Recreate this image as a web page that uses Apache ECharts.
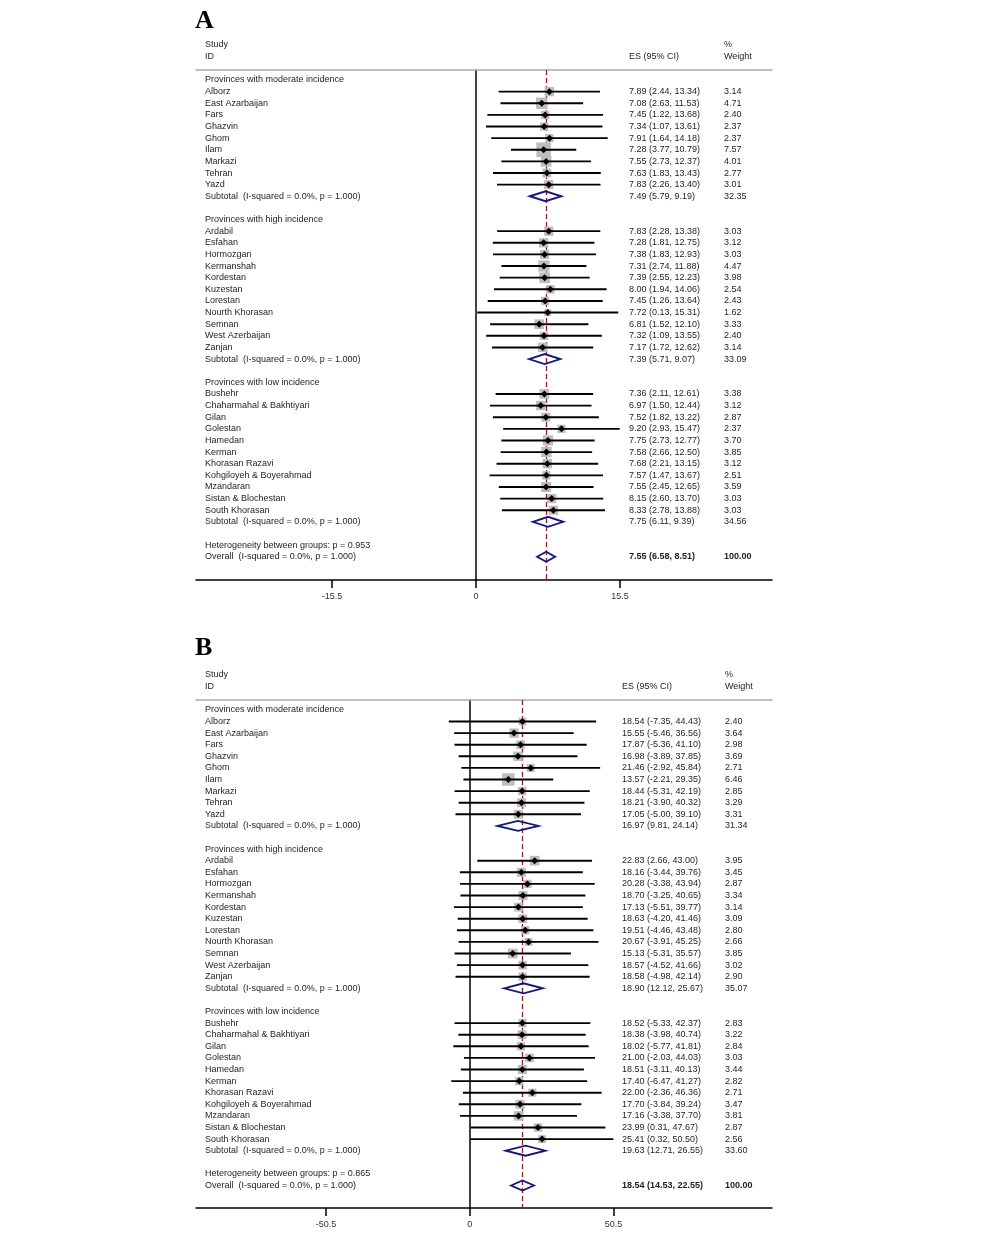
<!DOCTYPE html>
<html><head><meta charset="utf-8">
<script src="https://cdn.jsdelivr.net/npm/echarts@6/dist/echarts.min.js"></script>
<style>html,body{margin:0;padding:0;background:#fff}#c{width:1000px;height:1235px}</style>
</head><body><div id="c"></div>
<script>
// ---------- DATA ----------
const groupTitles = ['Provinces with moderate incidence', 'Provinces with high incidence', 'Provinces with low incidence'];
const moderateNames = ['Alborz','East Azarbaijan','Fars','Ghazvin','Ghom','Ilam','Markazi','Tehran','Yazd'];
const highNames = ['Ardabil','Esfahan','Hormozgan','Kermanshah','Kordestan','Kuzestan','Lorestan','Nourth Khorasan','Semnan','West Azerbaijan','Zanjan'];
const lowNames = ['Bushehr','Chaharmahal & Bakhtiyari','Gilan','Golestan','Hamedan','Kerman','Khorasan Razavi','Kohgiloyeh & Boyerahmad','Mzandaran','Sistan & Blochestan','South Khorasan'];

// Panel A
const A_es = [7.89,7.08,7.45,7.34,7.91,7.28,7.55,7.63,7.83,
              7.83,7.28,7.38,7.31,7.39,8.00,7.45,7.72,6.81,7.32,7.17,
              7.36,6.97,7.52,9.20,7.75,7.58,7.68,7.57,7.55,8.15,8.33];
const A_lo = [2.44,2.63,1.22,1.07,1.64,3.77,2.73,1.83,2.26,
              2.28,1.81,1.83,2.74,2.55,1.94,1.26,0.13,1.52,1.09,1.72,
              2.11,1.50,1.82,2.93,2.73,2.66,2.21,1.47,2.45,2.60,2.78];
const A_hi = [13.34,11.53,13.68,13.61,14.18,10.79,12.37,13.43,13.40,
              13.38,12.75,12.93,11.88,12.23,14.06,13.64,15.31,12.10,13.55,12.62,
              12.61,12.44,13.22,15.47,12.77,12.50,13.15,13.67,12.65,13.70,13.88];
const A_wt = [3.14,4.71,2.40,2.37,2.37,7.57,4.01,2.77,3.01,
              3.03,3.12,3.03,4.47,3.98,2.54,2.43,1.62,3.33,2.40,3.14,
              3.38,3.12,2.87,2.37,3.70,3.85,3.12,2.51,3.59,3.03,3.03];
const A_sub_es = [7.49,7.39,7.75];
const A_sub_lo = [5.79,5.71,6.11];
const A_sub_hi = [9.19,9.07,9.39];
const A_sub_wt = [32.35,33.09,34.56];
const A_overall = [7.55,6.58,8.51,100.00];
const A_het = '0.953';
const A_ticks = [-15.5, 0, 15.5];

// Panel B
const B_es = [18.54,15.55,17.87,16.98,21.46,13.57,18.44,18.21,17.05,
              22.83,18.16,20.28,18.70,17.13,18.63,19.51,20.67,15.13,18.57,18.58,
              18.52,18.38,18.02,21.00,18.51,17.40,22.00,17.70,17.16,23.99,25.41];
const B_lo = [-7.35,-5.46,-5.36,-3.89,-2.92,-2.21,-5.31,-3.90,-5.00,
              2.66,-3.44,-3.38,-3.25,-5.51,-4.20,-4.46,-3.91,-5.31,-4.52,-4.98,
              -5.33,-3.98,-5.77,-2.03,-3.11,-6.47,-2.36,-3.84,-3.38,0.31,0.32];
const B_hi = [44.43,36.56,41.10,37.85,45.84,29.35,42.19,40.32,39.10,
              43.00,39.76,43.94,40.65,39.77,41.46,43.48,45.25,35.57,41.66,42.14,
              42.37,40.74,41.81,44.03,40.13,41.27,46.36,39.24,37.70,47.67,50.50];
const B_wt = [2.40,3.64,2.98,3.69,2.71,6.46,2.85,3.29,3.31,
              3.95,3.45,2.87,3.34,3.14,3.09,2.80,2.66,3.85,3.02,2.90,
              2.83,3.22,2.84,3.03,3.44,2.82,2.71,3.47,3.81,2.87,2.56];
const B_sub_es = [16.97,18.90,19.63];
const B_sub_lo = [9.81,12.12,12.71];
const B_sub_hi = [24.14,25.67,26.55];
const B_sub_wt = [31.34,35.07,33.60];
const B_overall = [18.54,14.53,22.55,100.00];
const B_het = '0.865';
const B_ticks = [-50.5, 0, 50.5];

// ---------- BUILD ----------
const groupNames = [moderateNames, highNames, lowNames];
function fmt(e,l,h){ return e.toFixed(2)+' ('+l.toFixed(2)+', '+h.toFixed(2)+')'; }
function buildPanel(es, lo, hi, wt, ses, slo, shi, swt, ov, het){
  const texts=[], boxes=[], cis=[], dias=[];
  let row=0, k=0;
  for(let g=0; g<3; g++){
    texts.push({row, label: groupTitles[g]});
    row++;
    for(const nm of groupNames[g]){
      texts.push({row, label: nm, es: fmt(es[k],lo[k],hi[k]), wt: wt[k].toFixed(2)});
      boxes.push([es[k], row, wt[k]]);
      cis.push([lo[k], hi[k], row]);
      row++; k++;
    }
    texts.push({row, label: 'Subtotal  (I-squared = 0.0%, p = 1.000)', es: fmt(ses[g],slo[g],shi[g]), wt: swt[g].toFixed(2)});
    dias.push([ses[g], slo[g], shi[g], row]);
    row += 2;
  }
  texts.push({row, label: 'Heterogeneity between groups: p = ' + het});
  row++;
  texts.push({row, label: 'Overall  (I-squared = 0.0%, p = 1.000)', es: fmt(ov[0],ov[1],ov[2]), wt: ov[3].toFixed(2), bold: true});
  dias.push([ov[0], ov[1], ov[2], row]);
  return {texts, boxes, cis, dias, overall: ov[0]};
}
const PA = buildPanel(A_es,A_lo,A_hi,A_wt,A_sub_es,A_sub_lo,A_sub_hi,A_sub_wt,A_overall,A_het);
const PB = buildPanel(B_es,B_lo,B_hi,B_wt,B_sub_es,B_sub_lo,B_sub_hi,B_sub_wt,B_overall,B_het);

const FONT = 'Liberation Sans, Arial, sans-serif';
const TXT = '#1e1e1e';

function panelSeries(P, g, esX, wtX, boxK){
  const xi = 2*g, yi = g;
  return [
    { type:'line', xAxisIndex:xi, yAxisIndex:yi, data:[], z:1, silent:true,
      markLine:{ silent:true, z:1, symbol:['none','none'], label:{show:false},
        lineStyle:{type:[5,3], color:'#8e1f26', width:1.3},
        data:[{xAxis: P.overall}] } },
    { type:'scatter', xAxisIndex:xi, yAxisIndex:yi, data:P.boxes, z:2, silent:true,
      symbol:'rect', symbolSize:function(v){ return boxK*Math.sqrt(v[2]); },
      itemStyle:{color:'#bdbdbd', opacity:1} },
    { type:'custom', xAxisIndex:xi, yAxisIndex:yi, data:P.cis, z:3, silent:true,
      encode:{x:[0,1], y:2},
      renderItem:function(params, api){
        const p1 = api.coord([api.value(0), api.value(2)]);
        const p2 = api.coord([api.value(1), api.value(2)]);
        return {type:'line', shape:{x1:p1[0],y1:p1[1],x2:p2[0],y2:p2[1]},
          style:{stroke:'#000', lineWidth:1.9}};
      } },
    { type:'scatter', xAxisIndex:xi, yAxisIndex:yi, data:P.boxes.map(b=>[b[0],b[1]]), z:4, silent:true,
      symbol:'diamond', symbolSize:7, itemStyle:{color:'#000', opacity:1} },
    { type:'custom', xAxisIndex:xi, yAxisIndex:yi, data:P.dias, z:4, silent:true,
      encode:{x:[0,1,2], y:3},
      renderItem:function(params, api){
        const r = api.value(3);
        const c = api.coord([api.value(0), r]);
        const l = api.coord([api.value(1), r]);
        const h = api.coord([api.value(2), r]);
        const hh = 5;
        return {type:'polygon', shape:{points:[[l[0],c[1]],[c[0],c[1]-hh],[h[0],c[1]],[c[0],c[1]+hh]]},
          style:{fill:'none', stroke:'#15187a', lineWidth:1.9}};
      } },
    { type:'custom', xAxisIndex:xi, yAxisIndex:yi, z:5, silent:true,
      data:P.texts.map(t=>[0, t.row]), encode:{x:0, y:1},
      renderItem:function(params, api){
        const t = P.texts[params.dataIndex];
        const y = api.coord([0, api.value(1)])[1];
        const ch = [{type:'text', style:{x:205, y:y, text:t.label, fill:TXT, font:'9px '+FONT, verticalAlign:'middle', align:'left'}}];
        const f = (t.bold ? 'bold ' : '') + '9px ' + FONT;
        if(t.es) ch.push({type:'text', style:{x:esX, y:y, text:t.es, fill:TXT, font:f, verticalAlign:'middle', align:'left'}});
        if(t.wt) ch.push({type:'text', style:{x:wtX, y:y, text:t.wt, fill:TXT, font:f, verticalAlign:'middle', align:'left'}});
        return {type:'group', children:ch};
      } }
  ];
}

function xAxes(g, min, max, ticks){
  return [
    { type:'value', gridIndex:g, position:'bottom', min:min, max:max,
      axisLine:{show:true, onZero:false, lineStyle:{color:'#000', width:1.5}},
      axisTick:{show:true, length:8, customValues:ticks, lineStyle:{color:'#000', width:1.5}},
      axisLabel:{show:true, customValues:ticks, margin:12, fontSize:9, fontFamily:FONT, color:'#333',
        formatter:function(v){ return String(v); }},
      splitLine:{show:false} },
    { type:'value', gridIndex:g, position:'top', min:min, max:max,
      axisLine:{show:true, onZero:false, lineStyle:{color:'#aaaaaa', width:1.5}},
      axisTick:{show:false}, axisLabel:{show:false}, splitLine:{show:false} }
  ];
}
function yAxis(g, min, max){
  return { type:'value', gridIndex:g, inverse:true, min:min, max:max,
    axisLine:{show:true, onZero:true, lineStyle:{color:'#000', width:1.5}},
    axisTick:{show:false}, axisLabel:{show:false}, splitLine:{show:false} };
}

function hdr(x, y, text, extra){
  return Object.assign({type:'text', silent:true, style:{x:x, y:y, text:text, fill:TXT, font:'9px '+FONT, verticalAlign:'middle', align:'left'}}, extra||{});
}

const chart = echarts.init(document.getElementById('c'), null, {renderer:'canvas'});
chart.setOption({
  animation:false,
  backgroundColor:'#fff',
  grid:[
    {left:196, top:70, width:576, height:510},
    {left:196, top:700, width:576, height:508}
  ],
  xAxis: [].concat(xAxes(0, -280/9.29, 296/9.29, A_ticks), xAxes(1, -273.7/2.846, 302.3/2.846, B_ticks)),
  yAxis: [yAxis(0, -0.86, 43.0), yAxis(1, -0.853, 42.94)],
  series: [].concat(panelSeries(PA, 0, 629, 724, 5.3), panelSeries(PB, 1, 622, 725, 4.9)),
  graphic:[
    {type:'text', silent:true, style:{x:195, y:21, text:'A', fill:'#000', font:'bold 26px Liberation Serif, serif', verticalAlign:'middle'}},
    hdr(205, 45, 'Study'), hdr(205, 57, 'ID'), hdr(629, 57, 'ES (95% CI)'), hdr(724, 45, '%'), hdr(724, 57, 'Weight'),
    {type:'text', silent:true, style:{x:195, y:648, text:'B', fill:'#000', font:'bold 26px Liberation Serif, serif', verticalAlign:'middle'}},
    hdr(205, 675, 'Study'), hdr(205, 687, 'ID'), hdr(622, 687, 'ES (95% CI)'), hdr(725, 675, '%'), hdr(725, 687, 'Weight')
  ]
});
</script></body></html>
